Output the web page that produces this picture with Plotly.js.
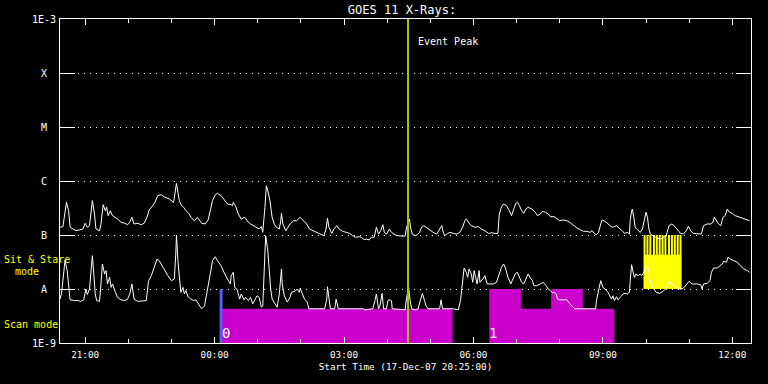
<!DOCTYPE html>
<html><head><meta charset="utf-8">
<script src="https://cdn.plot.ly/plotly-3.0.1.min.js"></script>
<style>html,body{margin:0;padding:0;background:#000;}#chart{width:768px;height:384px;}</style>
</head><body><div id="chart"></div>
<script>
// Start of plot: 17-Dec-07 20:25:00 (UTC); times below are minutes after start
const startTime = Date.UTC(2007, 11, 17, 20, 25, 0);
const endMinute = 961;

// GOES 11 long channel (1-8 A), W/m^2
const longMin = [
 0,4,6,9,12,14,18,22,27,32,
 35,38,41,43,45,48,50,55,57,60,
 63,65,67,70,73,80,85,90,94,97,
 100,103,108,113,117,121,124,129,132,136,
 141,145,152,158,160,162,164,166,169,172,
 175,179,182,187,191,194,197,202,206,209,
 212,216,219,224,229,233,238,240,
 241,244,248,252,257,262,265,269,273,277,
 280,282,285,287,289,292,295,298,301,305,
 307,308,310,314,317,320,325,329,334,338,
 343,347,352,357,362,367,370,372,374,378,
 381,385,388,393,398,403,407,411,416,419,
 423,426,430,433,437,440,443,446,449,451,
 454,458,461,466,470,475,
 480,482,486,488,490,494,497,500,503,506,
 510,514,519,524,526,528,531,533,535,539,
 542,547,552,556,560,563,565,569,572,577,
 582,586,591,596,600,605,609,611,614,617,
 621,625,628,631,634,636,639,642,645,648,
 651,656,661,664,668,671,675,679,682,687,
 691,695,700,705,709,713,716,
 719,724,728,733,737,740,743,746,749,752,
 754,758,763,768,771,774,777,782,785,789,
 792,793,795,796,798,800,802,807,810,813,
 815,817,819,821,825,830,835,840,843,847,
 851,854,858,863,867,871,874,877,881,886,
 892,895,900,905,908,910,913,916,919,922,
 925,928,931,935,939,946,953,959];
const longFlux = [
 1.39e-7,1.43e-7,2.13e-7,4.03e-7,2.82e-7,1.39e-7,1.29e-7,1.20e-7,1.24e-7,1.29e-7,
 1.65e-7,1.39e-7,1.49e-7,2.64e-7,4.32e-7,2.45e-7,1.29e-7,1.20e-7,1.60e-7,3.64e-7,
 2.82e-7,3.26e-7,2.28e-7,2.82e-7,2.28e-7,1.98e-7,1.72e-7,1.65e-7,1.55e-7,1.72e-7,
 2.13e-7,1.60e-7,1.65e-7,1.55e-7,1.65e-7,2.13e-7,2.91e-7,3.49e-7,4.03e-7,5.34e-7,
 5.58e-7,5.10e-7,4.64e-7,4.03e-7,5.75e-7,9.06e-7,6.18e-7,4.32e-7,3.49e-7,3.26e-7,
 2.82e-7,2.52e-7,2.13e-7,1.84e-7,2.13e-7,1.84e-7,1.65e-7,1.60e-7,1.90e-7,2.82e-7,
 4.32e-7,5.58e-7,5.92e-7,5.34e-7,4.32e-7,3.75e-7,3.64e-7,3.49e-7,
 4.03e-7,3.49e-7,2.45e-7,1.98e-7,2.13e-7,1.72e-7,1.60e-7,1.49e-7,1.39e-7,1.29e-7,
 1.43e-7,1.12e-7,3.26e-7,8.18e-7,6.61e-7,4.32e-7,2.13e-7,1.60e-7,1.39e-7,1.29e-7,
 1.84e-7,2.52e-7,1.60e-7,1.20e-7,1.39e-7,1.60e-7,1.84e-7,1.84e-7,2.13e-7,1.84e-7,
 1.60e-7,1.29e-7,1.20e-7,1.12e-7,1.04e-7,0.97e-7,1.29e-7,2.04e-7,1.39e-7,1.07e-7,
 1.29e-7,1.49e-7,1.29e-7,1.17e-7,1.12e-7,1.07e-7,0.97e-7,0.91e-7,0.93e-7,0.91e-7,
 0.82e-7,0.84e-7,0.81e-7,0.91e-7,0.91e-7,1.39e-7,1.04e-7,1.20e-7,1.55e-7,1.12e-7,
 1.04e-7,1.29e-7,1.12e-7,1.01e-7,0.97e-7,0.97e-7,
 0.95e-7,1.39e-7,1.98e-7,1.29e-7,1.04e-7,0.97e-7,1.01e-7,1.12e-7,1.39e-7,1.49e-7,
 1.35e-7,1.24e-7,1.12e-7,1.04e-7,1.17e-7,1.29e-7,1.49e-7,1.12e-7,0.97e-7,1.07e-7,
 1.12e-7,1.07e-7,1.04e-7,1.12e-7,1.39e-7,1.84e-7,1.98e-7,1.65e-7,1.49e-7,1.39e-7,
 1.43e-7,1.29e-7,1.20e-7,1.07e-7,1.10e-7,1.07e-7,1.07e-7,2.45e-7,3.34e-7,3.75e-7,
 3.49e-7,2.82e-7,2.28e-7,3.03e-7,3.86e-7,4.03e-7,3.49e-7,2.82e-7,2.52e-7,3.03e-7,
 3.26e-7,3.03e-7,2.64e-7,2.28e-7,2.45e-7,2.73e-7,2.64e-7,2.45e-7,2.19e-7,2.19e-7,
 1.98e-7,1.84e-7,1.90e-7,1.84e-7,1.72e-7,1.55e-7,1.45e-7,
 1.35e-7,1.24e-7,1.17e-7,1.17e-7,1.12e-7,1.20e-7,1.07e-7,1.01e-7,1.12e-7,1.60e-7,
 1.90e-7,1.79e-7,1.55e-7,1.39e-7,1.43e-7,1.49e-7,1.35e-7,1.20e-7,1.07e-7,1.12e-7,
 1.04e-7,1.84e-7,2.82e-7,3.03e-7,2.13e-7,1.39e-7,1.29e-7,1.12e-7,1.29e-7,2.13e-7,
 2.64e-7,2.13e-7,1.29e-7,1.04e-7,0.97e-7,0.88e-7,0.84e-7,0.91e-7,0.97e-7,1.49e-7,
 1.60e-7,1.49e-7,1.29e-7,1.07e-7,1.04e-7,1.20e-7,1.45e-7,1.20e-7,1.07e-7,1.07e-7,
 1.04e-7,1.49e-7,1.60e-7,1.60e-7,1.72e-7,2.13e-7,1.84e-7,1.60e-7,1.49e-7,2.13e-7,
 2.28e-7,3.03e-7,2.64e-7,2.52e-7,2.28e-7,2.13e-7,1.98e-7,1.84e-7];

// GOES 11 short channel (0.5-4 A), W/m^2
const shortMin = [
 0,2,5,7,10,12,14,20,25,29,
 33,36,38,41,43,45,47,49,51,55,
 57,59,62,64,66,69,71,73,77,80,
 85,90,94,97,100,103,108,115,120,123,
 127,131,135,138,142,145,150,155,159,161,
 162,164,166,168,171,173,175,178,182,186,
 189,192,194,197,201,206,209,212,216,219,
 224,228,231,234,237,
 238,241,243,246,250,252,256,258,262,265,
 268,271,274,277,280,282,284,286,289,291,
 293,295,299,302,305,308,309,312,316,320,
 322,327,330,333,334,337,340,344,346,368,
 371,372,374,376,382,384,387,422,424,435,
 438,440,443,445,448,450,454,456,459,461,
 462,
 480,482,485,487,489,494,498,501,504,
 507,509,512,528,530,532,547,554,557,560,
 562,565,567,569,572,574,576,578,580,583,
 584,588,591,594,598,603,607,611,614,617,
 620,623,627,629,633,636,639,642,645,649,
 651,654,657,659,663,668,672,676,679,682,
 685,687,690,692,695,700,705,709,713,716,
 719,745,746,748,750,752,755,758,762,765,
 767,769,771,774,776,779,784,789,792,793,
 795,797,799,801,804,807,809,812,814,816,
 819,820,822,826,829,834,839,842,845,848,
 851,854,858,862,865,868,872,875,879,886,
 891,893,895,900,904,906,909,914,918,921,
 923,927,929,932,937,942,946,951,956,959];
const shortFlux = [
 0.65e-8,0.81e-8,1.90e-8,3.44e-8,2.19e-8,1.07e-8,0.63e-8,0.61e-8,0.61e-8,0.59e-8,
 0.63e-8,1.00e-8,0.79e-8,1.00e-8,2.52e-8,4.14e-8,1.90e-8,0.81e-8,0.61e-8,0.59e-8,
 1.24e-8,2.91e-8,1.90e-8,2.19e-8,1.24e-8,1.65e-8,1.07e-8,1.24e-8,0.87e-8,0.70e-8,
 0.63e-8,0.61e-8,0.65e-8,0.81e-8,1.24e-8,0.65e-8,0.59e-8,0.61e-8,0.61e-8,1.39e-8,
 1.76e-8,2.52e-8,3.59e-8,3.34e-8,2.70e-8,2.19e-8,1.76e-8,1.43e-8,1.53e-8,4.45e-8,
 10.0e-8,3.34e-8,1.43e-8,0.87e-8,1.07e-8,0.81e-8,0.93e-8,0.72e-8,0.65e-8,0.61e-8,
 0.63e-8,0.54e-8,0.49e-8,0.43e-8,0.49e-8,1.07e-8,1.90e-8,3.34e-8,3.96e-8,3.34e-8,
 2.70e-8,2.04e-8,1.65e-8,1.43e-8,1.24e-8,
 1.76e-8,2.04e-8,1.07e-8,1.00e-8,0.65e-8,0.81e-8,0.63e-8,0.70e-8,0.61e-8,0.70e-8,
 0.53e-8,0.63e-8,0.75e-8,0.70e-8,0.46e-8,0.49e-8,1.90e-8,9.70e-8,5.10e-8,1.90e-8,
 1.00e-8,0.65e-8,0.53e-8,0.46e-8,0.81e-8,2.35e-8,1.24e-8,0.75e-8,0.57e-8,0.70e-8,
 0.87e-8,0.91e-8,1.00e-8,0.87e-8,1.03e-8,0.81e-8,0.65e-8,0.57e-8,0.43e-8,0.43e-8,
 0.65e-8,1.10e-8,0.61e-8,0.43e-8,0.43e-8,0.65e-8,0.43e-8,0.43e-8,0.41e-8,0.43e-8,
 0.61e-8,0.81e-8,0.43e-8,0.49e-8,0.83e-8,0.43e-8,0.43e-8,0.61e-8,0.63e-8,0.61e-8,
 0.43e-8,
 0.41e-8,0.70e-8,1.03e-8,0.61e-8,0.43e-8,0.41e-8,0.43e-8,0.61e-8,0.83e-8,
 0.61e-8,0.49e-8,0.43e-8,0.43e-8,0.63e-8,0.43e-8,0.43e-8,0.41e-8,0.61e-8,1.24e-8,
 2.45e-8,2.04e-8,1.65e-8,2.35e-8,1.90e-8,1.33e-8,2.19e-8,1.65e-8,1.24e-8,2.19e-8,
 1.33e-8,1.53e-8,1.76e-8,1.24e-8,1.24e-8,1.24e-8,1.33e-8,1.90e-8,2.52e-8,2.91e-8,
 2.35e-8,1.65e-8,1.24e-8,1.43e-8,1.90e-8,2.04e-8,1.65e-8,1.33e-8,1.24e-8,1.65e-8,
 1.90e-8,1.60e-8,1.43e-8,1.15e-8,1.15e-8,1.24e-8,1.33e-8,1.15e-8,1.00e-8,0.93e-8,
 0.85e-8,0.87e-8,0.81e-8,0.65e-8,0.63e-8,0.63e-8,0.63e-8,0.53e-8,0.46e-8,0.43e-8,
 0.43e-8,0.43e-8,0.61e-8,0.81e-8,1.00e-8,1.43e-8,1.07e-8,1.00e-8,0.87e-8,0.75e-8,
 0.65e-8,0.75e-8,0.61e-8,0.72e-8,0.63e-8,0.70e-8,0.83e-8,0.81e-8,0.87e-8,1.43e-8,
 2.82e-8,2.04e-8,1.65e-8,1.90e-8,1.76e-8,1.90e-8,1.76e-8,2.04e-8,2.52e-8,2.70e-8,
 2.19e-8,1.65e-8,1.24e-8,1.00e-8,0.87e-8,0.83e-8,0.91e-8,1.00e-8,1.15e-8,1.39e-8,
 1.24e-8,1.15e-8,1.07e-8,1.00e-8,1.00e-8,1.07e-8,1.24e-8,1.39e-8,1.24e-8,1.24e-8,
 1.20e-8,1.00e-8,1.24e-8,1.27e-8,1.43e-8,2.04e-8,2.45e-8,2.45e-8,2.70e-8,2.91e-8,
 3.26e-8,3.14e-8,3.86e-8,3.59e-8,3.34e-8,3.14e-8,2.70e-8,2.35e-8,2.19e-8,2.04e-8];

// Scan mode coverage (step edges, minutes) and step levels
const scanMin   = [225, 546, 597, 641, 683, 727, 771];
const scanLevel = [4.3e-9, 1e-9, 1e-8, 4.3e-9, 1e-8, 4.3e-9, 4.3e-9];
const scanLabels = ['0', '1'];
const scanLabelMin = [225, 597];
const scanMarkerMin = 224;

// Sit & Stare mode
const stareStartMin = 812, stareEndMin = 864;
const stareBase = 1e-8, stareFillTop = 4.3e-8, stareTop = 1e-7;
const stareStripeMin = [813, 817, 821, 826, 830, 834, 838, 842, 847, 851, 855, 859, 863];

// Event peak
const eventPeakMin = 484;

// Flare-class levels
const levelVals = [1e-3, 1e-4, 1e-5, 1e-6, 1e-7, 1e-8, 1e-9];
const levelText = ['1E-3', 'X', 'M', 'C', 'B', 'A', '1E-9'];

const T = m => startTime + m * 60000;
const FONT = 'DejaVu Sans Mono, Liberation Mono, monospace';

// scan step polygon
const scanX = [T(scanMin[0])], scanY = [1e-9];
for (let i = 0; i < scanMin.length - 1; i++) {
  scanX.push(T(scanMin[i]), T(scanMin[i + 1]));
  scanY.push(scanLevel[i], scanLevel[i]);
}
scanX.push(T(scanMin[scanMin.length - 1]));
scanY.push(1e-9);

const stripeX = [], stripeY = [];
stareStripeMin.forEach(m => { stripeX.push(T(m), T(m), null); stripeY.push(stareBase, stareTop, null); });

const traces = [
  {x: scanX, y: scanY, mode: 'lines', fill: 'toself', fillcolor: '#cc00cc',
   line: {width: 0, color: '#cc00cc'}, hoverinfo: 'skip'},
  {x: [T(stareStartMin), T(stareStartMin), T(stareEndMin), T(stareEndMin)],
   y: [stareBase, stareFillTop, stareFillTop, stareBase], mode: 'lines', fill: 'toself',
   fillcolor: '#ffff00', line: {width: 0, color: '#ffff00'}, hoverinfo: 'skip'},
  {x: stripeX, y: stripeY, mode: 'lines', line: {width: 2, color: '#ffff00'}, hoverinfo: 'skip'},
  {x: [T(scanMarkerMin), T(scanMarkerMin)], y: [1e-9, 1e-8], mode: 'lines',
   line: {width: 3, color: '#5a5aff'}, hoverinfo: 'skip'},
  {x: longMin.map(T), y: longFlux, mode: 'lines', line: {width: 1, color: '#ffffff'}, hoverinfo: 'skip'},
  {x: shortMin.map(T), y: shortFlux, mode: 'lines', line: {width: 1, color: '#ffffff'}, hoverinfo: 'skip'},
  {x: [T(eventPeakMin), T(eventPeakMin)], y: [1e-9, 1e-3], mode: 'lines',
   line: {width: 2, color: '#99cc00'}, hoverinfo: 'skip'}
];

const annotations = [];
levelVals.forEach((v, i) => annotations.push({
  xref: 'paper', x: -16 / 691, xanchor: 'center', yref: 'y', y: Math.log10(v), yanchor: 'middle',
  text: levelText[i], showarrow: false, font: {family: FONT, size: 10, color: '#ffffff'}
}));
annotations.push(
  {xref: 'paper', x: -58 / 691, xanchor: 'left', yref: 'paper', y: 84 / 324, yanchor: 'middle',
   text: 'Sit & Stare', showarrow: false, font: {family: FONT, size: 10, color: '#ffff00'}},
  {xref: 'paper', x: -47 / 691, xanchor: 'left', yref: 'paper', y: 72 / 324, yanchor: 'middle',
   text: 'mode', showarrow: false, font: {family: FONT, size: 10, color: '#ffff00'}},
  {xref: 'paper', x: -58 / 691, xanchor: 'left', yref: 'paper', y: 19 / 324, yanchor: 'middle',
   text: 'Scan mode', showarrow: false, font: {family: FONT, size: 10, color: '#ffff00'}},
  {xref: 'x', x: T(eventPeakMin), xanchor: 'left', xshift: 8, yref: 'paper', y: 301 / 324, yanchor: 'middle',
   text: 'Event Peak', showarrow: false, font: {family: FONT, size: 10, color: '#ffffff'}}
);
scanLabels.forEach((s, i) => annotations.push({
  xref: 'x', x: T(scanLabelMin[i]), xanchor: 'left', xshift: -2, yref: 'paper', y: 10 / 324, yanchor: 'middle',
  text: s, showarrow: false, font: {family: FONT, size: 14, color: '#ffffff'}
}));

const layout = {
  width: 768, height: 384,
  paper_bgcolor: '#000000', plot_bgcolor: '#000000',
  margin: {l: 60, r: 17, t: 19, b: 41},
  showlegend: false,
  font: {family: FONT, size: 10, color: '#ffffff'},
  title: {text: 'GOES 11 X-Rays:', xref: 'paper', x: 0.495, xanchor: 'center',
          yref: 'container', y: 1 - 9.5 / 384, yanchor: 'middle', font: {family: FONT, size: 12, color: '#ffffff'}},
  xaxis: {
    type: 'date', range: [T(0), T(endMinute)],
    tick0: '2007-12-17 21:00', dtick: 3 * 3600000, tickformat: '%H:%M',
    ticks: 'inside', ticklen: 6, tickwidth: 1, tickcolor: '#ffffff', ticklabelstandoff: 3,
    showline: true, linecolor: '#ffffff', linewidth: 1, mirror: 'ticks',
    showgrid: false, zeroline: false,
    minor: {tick0: '2007-12-17 21:00', dtick: 3600000, ticks: 'inside', ticklen: 4, tickwidth: 1, tickcolor: '#ffffff', showgrid: false},
    tickfont: {family: FONT, size: 9.3, color: '#ffffff'},
    title: {text: 'Start Time (17-Dec-07 20:25:00)', standoff: 4, font: {family: FONT, size: 9.3, color: '#ffffff'}}
  },
  yaxis: {
    type: 'log', range: [-9, -3], tickvals: levelVals, showticklabels: false,
    ticks: 'inside', ticklen: 15, tickwidth: 1, tickcolor: '#ffffff',
    showline: true, linecolor: '#ffffff', linewidth: 1, mirror: 'ticks',
    showgrid: true, gridcolor: '#ffffff', gridwidth: 1, griddash: '1px,5px', zeroline: false
  },
  annotations: annotations
};

Plotly.newPlot('chart', traces, layout, {staticPlot: true, displayModeBar: false});
</script>
</body></html>
